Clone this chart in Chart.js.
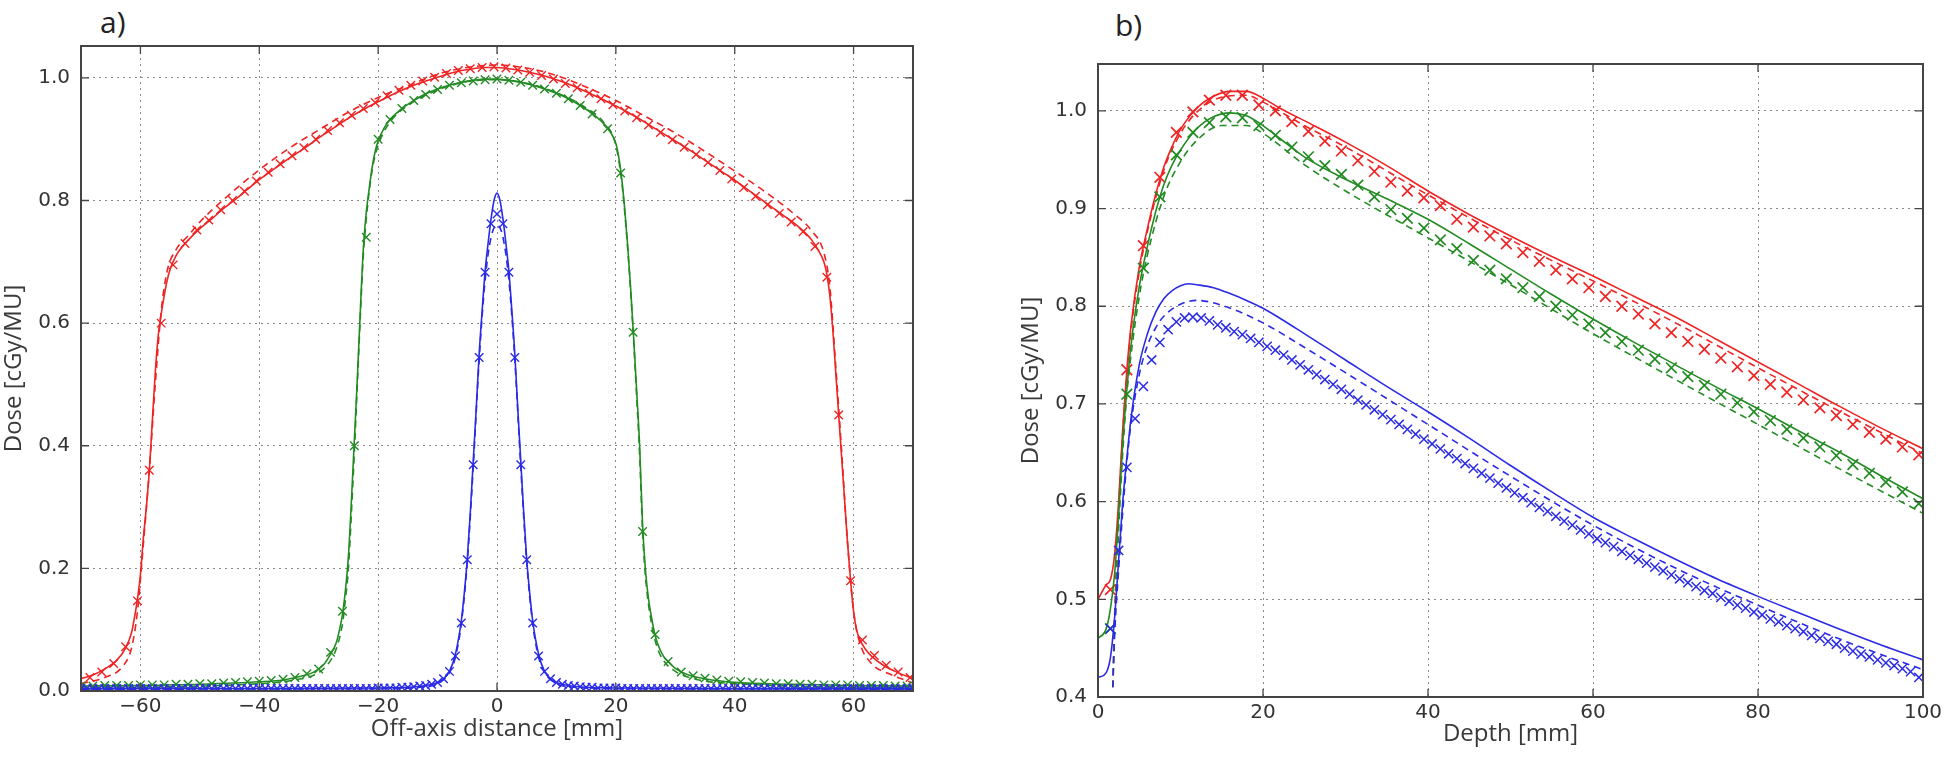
<!DOCTYPE html>
<html lang="en">
<head>
<meta charset="UTF-8">
<title>Dose profiles</title>
<script src="https://cdn.jsdelivr.net/npm/chart.js"></script>
<style>
  body { margin: 0; background: #fff; width: 1946px; height: 763px; overflow: hidden; position: relative; }
  canvas { position: absolute; top: 0; }
  .panel-label { position: absolute; font-family: "Open Sans", sans-serif; font-size: 30px; color: #222; line-height: 1; }
</style>
</head>
<body>
<div class="panel-label" style="left:100px; top:7px">a)</div>
<div class="panel-label" style="left:1115px; top:10px">b)</div>
<canvas id="chartA" width="960" height="763" style="left:0"></canvas>
<canvas id="chartB" width="986" height="763" style="left:960px"></canvas>
<script>
// ---------- panel a: off-axis profiles ----------
const aXTicks = [-60, -40, -20, 0, 20, 40, 60];
const aYTicks = [0.0, 0.2, 0.4, 0.6, 0.8, 1.0];

const aRedLineX = [-70, -68, -66, -64, -62.5, -61.5, -61, -60.5, -60, -59.5, -59, -58.5, -58, -57.5, -57, -56.5, -56, -55.5, -55, -54,
  -53, -52, -50, -48, -46, -44, -42, -40, -38, -36, -34, -32, -30, -28, -26, -24, -22, -20, -18, -16,
  -14, -12, -10, -8, -6, -4, -2, 0, 2, 4, 6, 8, 10, 12, 14, 16, 18, 20, 22, 24,
  26, 28, 30, 32, 34, 36, 38, 40, 42, 44, 46, 48, 50, 52, 53, 54, 55, 55.5, 56, 56.5,
  57, 57.5, 58, 58.5, 59, 59.5, 60, 60.5, 61, 62, 63, 65, 67, 70];
const aRedLineY = [0.02, 0.026, 0.036, 0.05, 0.07, 0.095, 0.12, 0.15, 0.19, 0.25, 0.3, 0.36, 0.44, 0.52, 0.58, 0.615, 0.645, 0.67, 0.688, 0.71,
  0.724, 0.735, 0.754, 0.77, 0.787, 0.802, 0.818, 0.834, 0.848, 0.862, 0.875, 0.888, 0.902, 0.915, 0.928, 0.94, 0.951, 0.961, 0.971, 0.98,
  0.988, 0.995, 1.001, 1.007, 1.012, 1.015, 1.017, 1.017, 1.015, 1.012, 1.008, 1.003, 0.997, 0.99, 0.982, 0.973, 0.964, 0.954, 0.944, 0.933,
  0.921, 0.909, 0.897, 0.885, 0.872, 0.859, 0.846, 0.833, 0.819, 0.805, 0.791, 0.777, 0.763, 0.746, 0.735, 0.72, 0.70, 0.68, 0.645, 0.59,
  0.52, 0.45, 0.38, 0.31, 0.24, 0.18, 0.13, 0.10, 0.085, 0.068, 0.057, 0.042, 0.032, 0.02];
const aRedDashX = [-70, -66, -63, -61.5, -60.5, -59.5, -58.5, -57.5, -56.5, -55.5, -54, -52, -50, -45, -40, -35, -30, -25, -20, -15,
  -10, -5, 0, 5, 10, 15, 20, 25, 30, 35, 40, 45, 50, 53, 55, 56, 57, 58, 59, 60, 61, 63, 66, 70];
const aRedDashY = [0.012, 0.022, 0.04, 0.07, 0.13, 0.24, 0.36, 0.50, 0.62, 0.685, 0.72, 0.742, 0.765, 0.81, 0.85, 0.885, 0.915, 0.944, 0.968, 0.987,
  1.006, 1.017, 1.021, 1.016, 1.004, 0.985, 0.963, 0.937, 0.91, 0.88, 0.848, 0.815, 0.778, 0.75, 0.715, 0.66, 0.53, 0.39, 0.24, 0.13, 0.08, 0.045, 0.028, 0.013];
const aRedMarkX = [-68.5, -66.5, -64.5, -62.5, -60.5, -58.5, -56.5, -54.5, -52.5, -50.5,
  -48.5, -46.5, -44.5, -42.5, -40.5, -38.5, -36.5, -34.5, -32.5, -30.5,
  -28.5, -26.5, -24.5, -22.5, -20.5, -18.5, -16.5, -14.5, -12.5, -10.5,
  -8.5, -6.5, -4.5, -2.5, -0.5, 1.5, 3.5, 5.5, 7.5, 9.5,
  11.5, 13.5, 15.5, 17.5, 19.5, 21.5, 23.5, 25.5, 27.5, 29.5,
  31.5, 33.5, 35.5, 37.5, 39.5, 41.5, 43.5, 45.5, 47.5, 49.5,
  51.5, 53.5, 55.5, 57.5, 59.5, 61.5, 63.5, 65.5, 67.5, 69.5];
const aRedMarkY = [0.022, 0.031, 0.045, 0.072, 0.147, 0.36, 0.60, 0.695, 0.73, 0.752,
  0.768, 0.785, 0.80, 0.815, 0.832, 0.846, 0.86, 0.873, 0.886, 0.90,
  0.914, 0.927, 0.939, 0.95, 0.96, 0.971, 0.98, 0.988, 0.995, 1.001,
  1.007, 1.012, 1.015, 1.017, 1.018, 1.016, 1.013, 1.009, 1.004, 0.998,
  0.991, 0.984, 0.975, 0.966, 0.956, 0.946, 0.935, 0.923, 0.911, 0.899,
  0.887, 0.875, 0.862, 0.849, 0.835, 0.821, 0.807, 0.793, 0.779, 0.765,
  0.749, 0.725, 0.675, 0.45, 0.18, 0.083, 0.058, 0.042, 0.031, 0.022];

const aGreenLineX = [-70, -60, -50, -40, -36, -33, -31, -30, -29, -28, -27, -26.5, -26, -25.5, -25, -24.5, -24, -23.5, -23, -22.5,
  -22, -21.5, -21, -20.5, -20, -19, -18, -16, -14, -12, -10, -8, -6, -4, -2, 0, 2, 4, 6, 8,
  10, 12, 14, 16, 18, 19, 20, 20.5, 21, 21.5, 22, 22.5, 23, 23.5, 24, 24.5, 25, 25.5, 26, 26.5,
  27, 28, 29, 30, 32, 35, 40, 50, 60, 70];
const aGreenLineY = [0.008, 0.009, 0.011, 0.015, 0.018, 0.024, 0.03, 0.036, 0.045, 0.06, 0.08, 0.1, 0.125, 0.165, 0.22, 0.31, 0.41, 0.51, 0.62, 0.72,
  0.78, 0.82, 0.855, 0.88, 0.897, 0.918, 0.932, 0.95, 0.963, 0.974, 0.982, 0.988, 0.993, 0.996, 0.998, 0.998, 0.996, 0.993, 0.988, 0.982,
  0.975, 0.966, 0.955, 0.942, 0.925, 0.913, 0.893, 0.87, 0.835, 0.785, 0.725, 0.655, 0.575, 0.49, 0.40, 0.27, 0.195, 0.15, 0.12, 0.095,
  0.078, 0.057, 0.046, 0.037, 0.027, 0.02, 0.014, 0.011, 0.009, 0.008];
const aGreenDashX = [-70, -50, -40, -34, -30, -28, -27, -26, -25.5, -25, -24.5, -24, -23.5, -23, -22.5, -22, -21, -20, -18, -15,
  -10, -5, 0, 5, 10, 15, 18, 20, 21, 21.5, 22, 22.5, 23, 23.5, 24, 24.5, 25, 26, 27, 28, 30, 34, 40, 50, 70];
const aGreenDashY = [0.005, 0.008, 0.012, 0.018, 0.03, 0.05, 0.07, 0.11, 0.15, 0.2, 0.29, 0.39, 0.5, 0.61, 0.71, 0.77, 0.85, 0.89, 0.928, 0.955,
  0.98, 0.994, 0.997, 0.991, 0.976, 0.951, 0.927, 0.89, 0.83, 0.78, 0.72, 0.65, 0.57, 0.48, 0.385, 0.26, 0.185, 0.11, 0.07, 0.05, 0.032, 0.018, 0.012, 0.008, 0.005];
const aGreenMarkX = [-70, -68, -66, -64, -62, -60, -58, -56, -54, -52, -50, -48, -46, -44, -42, -40, -38, -36, -34, -32,
  -30, -28, -26, -24, -22, -20, -18, -16, -14, -12, -10, -8, -6, -4, -2, 0, 2, 4, 6, 8,
  10, 12, 14, 16, 18.6, 20.8, 22.9, 24.5, 26.6, 28.8, 31, 33, 35, 37, 39, 41, 43, 45, 47, 49,
  51, 53, 55, 57, 59, 61, 63, 65, 67, 69];
const aGreenMarkY = [0.008, 0.008, 0.009, 0.009, 0.009, 0.01, 0.01, 0.01, 0.011, 0.011, 0.012, 0.012, 0.013, 0.014, 0.015, 0.016, 0.017, 0.019, 0.022, 0.028,
  0.036, 0.063, 0.13, 0.40, 0.74, 0.9, 0.932, 0.95, 0.963, 0.973, 0.981, 0.988, 0.992, 0.995, 0.997, 0.998, 0.996, 0.993, 0.988, 0.982,
  0.975, 0.966, 0.955, 0.941, 0.917, 0.845, 0.585, 0.26, 0.092, 0.048, 0.031, 0.025, 0.021, 0.018, 0.016, 0.015, 0.014, 0.013, 0.012, 0.012,
  0.011, 0.011, 0.01, 0.01, 0.01, 0.009, 0.009, 0.009, 0.008, 0.008];

const aBlueLineX = [-70, -40, -20, -15, -12, -10, -9, -8, -7, -6, -5.5, -5, -4.5, -4, -3.5, -3, -2.5, -2, -1.5, -1,
  -0.5, 0, 0.5, 1, 1.5, 2, 2.5, 3, 3.5, 4, 4.5, 5, 5.5, 6, 7, 8, 9, 10, 12, 15, 20, 40, 70];
const aBlueLineY = [0.004, 0.004, 0.005, 0.006, 0.009, 0.014, 0.02, 0.032, 0.06, 0.115, 0.16, 0.215, 0.29, 0.375, 0.46, 0.55, 0.62, 0.685, 0.73, 0.77,
  0.8, 0.812, 0.8, 0.77, 0.73, 0.685, 0.62, 0.55, 0.46, 0.375, 0.29, 0.215, 0.16, 0.115, 0.06, 0.032, 0.02, 0.014, 0.009, 0.006, 0.005, 0.004, 0.004];
const aBlueDashX = [-70, -20, -12, -10, -8, -7, -6, -5, -4, -3, -2, -1, 0, 1, 2, 3, 4, 5, 6, 7, 8, 10, 12, 20, 70];
const aBlueDashY = [0.003, 0.004, 0.007, 0.012, 0.03, 0.055, 0.11, 0.21, 0.365, 0.54, 0.67, 0.74, 0.76, 0.74, 0.67, 0.54, 0.365, 0.21, 0.11, 0.055, 0.03, 0.012, 0.007, 0.004, 0.003];
const aBlueMarkX = [-70, -69, -68, -67, -66, -65, -64, -63, -62, -61, -60, -59, -58, -57, -56, -55, -54, -53, -52, -51,
  -50, -49, -48, -47, -46, -45, -44, -43, -42, -41, -40, -39, -38, -37, -36, -35, -34, -33, -32, -31,
  -30, -29, -28, -27, -26, -25, -24, -23, -22, -21, -20, -19, -18, -17, -16, -15, -14, -13, -12, -11,
  -10, -9, -8, -7, -6, -5, -4, -3, -2, -1, 0, 1, 2, 3, 4, 5, 6, 7, 8, 9,
  10, 11, 12, 13, 14, 15, 16, 17, 18, 19, 20, 21, 22, 23, 24, 25, 26, 27, 28, 29,
  30, 31, 32, 33, 34, 35, 36, 37, 38, 39, 40, 41, 42, 43, 44, 45, 46, 47, 48, 49,
  50, 51, 52, 53, 54, 55, 56, 57, 58, 59, 60, 61, 62, 63, 64, 65, 66, 67, 68, 69, 70];
const aBlueMarkY = [0.004, 0.004, 0.004, 0.004, 0.004, 0.004, 0.004, 0.004, 0.004, 0.004, 0.004, 0.004, 0.004, 0.004, 0.004, 0.004, 0.004, 0.004, 0.004, 0.004,
  0.004, 0.004, 0.004, 0.004, 0.004, 0.004, 0.004, 0.004, 0.004, 0.004, 0.004, 0.004, 0.004, 0.004, 0.004, 0.004, 0.004, 0.004, 0.004, 0.004,
  0.004, 0.004, 0.004, 0.004, 0.004, 0.004, 0.004, 0.004, 0.004, 0.004, 0.005, 0.005, 0.005, 0.005, 0.006, 0.006, 0.007, 0.008, 0.009, 0.011,
  0.014, 0.02, 0.032, 0.057, 0.111, 0.214, 0.369, 0.544, 0.683, 0.762, 0.778, 0.762, 0.683, 0.544, 0.369, 0.214, 0.111, 0.057, 0.032, 0.02,
  0.014, 0.011, 0.009, 0.008, 0.007, 0.006, 0.006, 0.005, 0.005, 0.005, 0.005, 0.004, 0.004, 0.004, 0.004, 0.004, 0.004, 0.004, 0.004, 0.004,
  0.004, 0.004, 0.004, 0.004, 0.004, 0.004, 0.004, 0.004, 0.004, 0.004, 0.004, 0.004, 0.004, 0.004, 0.004, 0.004, 0.004, 0.004, 0.004, 0.004,
  0.004, 0.004, 0.004, 0.004, 0.004, 0.004, 0.004, 0.004, 0.004, 0.004, 0.004, 0.004, 0.004, 0.004, 0.004, 0.004, 0.004, 0.004, 0.004, 0.004, 0.004];

// ---------- panel b: depth dose ----------
const bXTicks = [0, 20, 40, 60, 80, 100];
const bYTicks = [0.4, 0.5, 0.6, 0.7, 0.8, 0.9, 1.0];

const bLineX = [0, 1, 1.5, 2, 2.5, 3, 3.5, 4, 5, 6, 7, 8, 9, 10, 12, 14, 16, 18, 20, 22,
  25, 30, 35, 40, 45, 50, 55, 60, 65, 70, 75, 80, 85, 90, 95, 100];
const bRedLineY = [0.50, 0.515, 0.52, 0.545, 0.60, 0.675, 0.735, 0.78, 0.84, 0.88, 0.915, 0.943, 0.964, 0.981, 1.003, 1.015, 1.02, 1.02, 1.013, 1.003,
  0.99, 0.968, 0.944, 0.918, 0.894, 0.872, 0.851, 0.831, 0.81, 0.789, 0.766, 0.743, 0.72, 0.697, 0.675, 0.654];
const bGreenLineY = [0.46, 0.47, 0.49, 0.525, 0.585, 0.66, 0.715, 0.76, 0.82, 0.862, 0.897, 0.925, 0.945, 0.96, 0.982, 0.994, 0.998, 0.995, 0.985, 0.972,
  0.953, 0.93, 0.91, 0.889, 0.864, 0.838, 0.812, 0.787, 0.763, 0.74, 0.717, 0.695, 0.672, 0.65, 0.626, 0.603];
const bBlueLineX = [0, 1, 1.5, 2, 2.5, 3, 3.5, 4, 5, 6, 7, 8, 9, 10, 11, 12, 14, 16, 18, 20,
  22, 25, 30, 35, 40, 45, 50, 55, 60, 65, 70, 75, 80, 85, 90, 95, 100];
const bBlueLineY = [0.42, 0.425, 0.44, 0.48, 0.54, 0.6, 0.645, 0.685, 0.74, 0.772, 0.794, 0.808, 0.816, 0.821, 0.823, 0.822, 0.819, 0.813, 0.806, 0.798,
  0.788, 0.772, 0.745, 0.718, 0.692, 0.665, 0.637, 0.61, 0.584, 0.562, 0.541, 0.521, 0.503, 0.486, 0.469, 0.453, 0.438];

const bRedDashX = [1.8, 2, 2.5, 3, 3.5, 4, 5, 6, 8, 10, 12, 15, 18, 20, 25, 30, 40, 50, 60, 70, 80, 90, 100];
const bRedDashY = [0.41, 0.48, 0.59, 0.67, 0.73, 0.775, 0.835, 0.877, 0.94, 0.977, 0.999, 1.014, 1.016, 1.009, 0.985, 0.963, 0.914, 0.868, 0.826, 0.783, 0.737, 0.692, 0.649];
const bGreenDashX = [1.8, 2, 2.5, 3, 3.5, 4, 5, 6, 8, 10, 12, 15, 18, 20, 25, 30, 40, 50, 60, 70, 80, 90, 100];
const bGreenDashY = [0.41, 0.47, 0.57, 0.65, 0.71, 0.75, 0.81, 0.853, 0.913, 0.948, 0.97, 0.985, 0.985, 0.977, 0.945, 0.918, 0.87, 0.822, 0.772, 0.725, 0.679, 0.633, 0.588];
const bBlueDashX = [1.8, 2, 2.5, 3, 3.5, 4, 5, 6, 7, 8, 10, 12, 15, 20, 25, 30, 40, 50, 60, 70, 80, 90, 100];
const bBlueDashY = [0.41, 0.46, 0.53, 0.59, 0.64, 0.68, 0.73, 0.76, 0.778, 0.79, 0.802, 0.806, 0.801, 0.783, 0.758, 0.732, 0.679, 0.626, 0.576, 0.532, 0.494, 0.459, 0.428];

const bMarkX2 = [1.5, 3.5, 5.5, 7.5, 9.5, 11.5, 13.5, 15.5, 17.5, 19.5, 21.5, 23.5, 25.5, 27.5, 29.5, 31.5, 33.5, 35.5, 37.5, 39.5,
  41.5, 43.5, 45.5, 47.5, 49.5, 51.5, 53.5, 55.5, 57.5, 59.5, 61.5, 63.5, 65.5, 67.5, 69.5, 71.5, 73.5, 75.5, 77.5, 79.5,
  81.5, 83.5, 85.5, 87.5, 89.5, 91.5, 93.5, 95.5, 97.5, 99.5];
const bRedMarkY = [0.51, 0.735, 0.862, 0.932, 0.978, 0.999, 1.011, 1.016, 1.016, 1.006, 1.0, 0.989, 0.979, 0.969, 0.959, 0.949, 0.938, 0.927, 0.918, 0.911,
  0.903, 0.889, 0.881, 0.872, 0.864, 0.855, 0.846, 0.837, 0.828, 0.819, 0.810, 0.800, 0.792, 0.782, 0.773, 0.764, 0.756, 0.747, 0.738, 0.729,
  0.720, 0.712, 0.704, 0.696, 0.688, 0.679, 0.671, 0.664, 0.656, 0.648];
const bGreenMarkY = [0.47, 0.71, 0.839, 0.912, 0.955, 0.978, 0.988, 0.994, 0.993, 0.985, 0.975, 0.963, 0.953, 0.944, 0.935, 0.924, 0.912, 0.899, 0.89, 0.88,
  0.868, 0.859, 0.847, 0.837, 0.828, 0.819, 0.810, 0.800, 0.791, 0.782, 0.773, 0.764, 0.755, 0.746, 0.737, 0.728, 0.719, 0.710, 0.701, 0.692,
  0.683, 0.674, 0.665, 0.656, 0.647, 0.638, 0.629, 0.620, 0.610, 0.598];
const bMarkX1 = [1.5, 2.5, 3.5, 4.5, 5.5, 6.5, 7.5, 8.5, 9.5, 10.5, 11.5, 12.5, 13.5, 14.5, 15.5, 16.5, 17.5, 18.5, 19.5, 20.5,
  21.5, 22.5, 23.5, 24.5, 25.5, 26.5, 27.5, 28.5, 29.5, 30.5, 31.5, 32.5, 33.5, 34.5, 35.5, 36.5, 37.5, 38.5, 39.5, 40.5,
  41.5, 42.5, 43.5, 44.5, 45.5, 46.5, 47.5, 48.5, 49.5, 50.5, 51.5, 52.5, 53.5, 54.5, 55.5, 56.5, 57.5, 58.5, 59.5, 60.5,
  61.5, 62.5, 63.5, 64.5, 65.5, 66.5, 67.5, 68.5, 69.5, 70.5, 71.5, 72.5, 73.5, 74.5, 75.5, 76.5, 77.5, 78.5, 79.5, 80.5,
  81.5, 82.5, 83.5, 84.5, 85.5, 86.5, 87.5, 88.5, 89.5, 90.5, 91.5, 92.5, 93.5, 94.5, 95.5, 96.5, 97.5, 98.5, 99.5];
const bBlueMarkY = [0.47, 0.55, 0.635, 0.685, 0.718, 0.745, 0.763, 0.776, 0.784, 0.788, 0.789, 0.788, 0.785, 0.781, 0.778, 0.774, 0.771, 0.767, 0.763, 0.759,
  0.755, 0.750, 0.745, 0.740, 0.735, 0.730, 0.725, 0.720, 0.715, 0.710, 0.704, 0.699, 0.694, 0.689, 0.684, 0.679, 0.674, 0.669, 0.664, 0.659,
  0.654, 0.649, 0.644, 0.639, 0.634, 0.629, 0.624, 0.619, 0.614, 0.609, 0.604, 0.599, 0.594, 0.590, 0.585, 0.580, 0.576, 0.571, 0.567, 0.562,
  0.558, 0.554, 0.549, 0.545, 0.541, 0.537, 0.533, 0.529, 0.525, 0.521, 0.517, 0.513, 0.509, 0.506, 0.502, 0.498, 0.494, 0.491, 0.487, 0.484,
  0.480, 0.477, 0.473, 0.470, 0.467, 0.463, 0.460, 0.457, 0.454, 0.450, 0.447, 0.444, 0.441, 0.438, 0.435, 0.432, 0.429, 0.426, 0.420];

const RED = '#ee2424';
const GREEN = '#238b23';
const BLUE = '#2b2be6';

function pts(xs, ys) {
  return xs.map((x, i) => ({ x: x, y: ys[i] }));
}
function line(xs, ys, color, dashed, order) {
  return {
    data: pts(xs, ys), showLine: true, pointRadius: 0, borderColor: color, borderWidth: 1.6,
    borderDash: dashed ? [7, 5] : [], cubicInterpolationMode: 'monotone', order: order
  };
}
function marks(xs, ys, color, order, r, w) {
  return {
    data: pts(xs, ys), showLine: false, pointStyle: 'crossRot', pointRadius: r,
    pointBorderWidth: w, borderColor: color, backgroundColor: color, order: order
  };
}

// frame with inward ticks on all four sides, like the original
const framePlugin = {
  id: 'frame',
  afterDatasetsDraw(chart) {
    const { ctx, chartArea: a, scales } = chart;
    ctx.save();
    ctx.strokeStyle = '#444';
    ctx.lineWidth = 1.3;
    ctx.beginPath();
    scales.x.ticks.forEach(t => {
      const px = scales.x.getPixelForValue(t.value);
      ctx.moveTo(px, a.bottom); ctx.lineTo(px, a.bottom - 8);
      ctx.moveTo(px, a.top); ctx.lineTo(px, a.top + 8);
    });
    scales.y.ticks.forEach(t => {
      const py = scales.y.getPixelForValue(t.value);
      ctx.moveTo(a.left, py); ctx.lineTo(a.left + 8, py);
      ctx.moveTo(a.right, py); ctx.lineTo(a.right - 8, py);
    });
    ctx.stroke();
    ctx.lineWidth = 2;
    ctx.strokeRect(a.left, a.top, a.right - a.left, a.bottom - a.top);
    ctx.restore();
  }
};

const tickFont = { family: 'DejaVu Sans', size: 20 };
const titleFont = { family: 'Open Sans', size: 24 };

function makeChart(id, c) {
  return new Chart(document.getElementById(id), {
    type: 'scatter',
    data: { datasets: c.datasets },
    options: {
      responsive: false,
      animation: false,
      events: [],
      layout: { padding: c.padding },
      plugins: { legend: { display: false }, tooltip: { enabled: false } },
      scales: {
        x: {
          type: 'linear', min: c.xMin, max: c.xMax,
          afterBuildTicks: s => { s.ticks = c.xTicks.map(v => ({ value: v })); },
          afterFit: s => { s.height = c.xHeight; s.paddingLeft = 0; s.paddingRight = 0; },
          grid: { color: '#8a8a8a', lineWidth: 1, drawTicks: false },
          border: { display: false, dash: [2, 4] },
          ticks: {
            padding: 4, color: '#333', font: tickFont, maxRotation: 0, autoSkip: false,
            callback: v => v < 0 ? '\u2212' + (-v) : String(v)
          },
          title: { display: true, text: c.xTitle, color: '#3a3a3a', font: titleFont, padding: { top: 0, bottom: c.xTitlePad } }
        },
        y: {
          type: 'linear', min: c.yMin, max: c.yMax,
          afterBuildTicks: s => { s.ticks = c.yTicks.map(v => ({ value: v })); },
          afterFit: s => { s.width = c.yWidth; s.paddingTop = 0; s.paddingBottom = 0; },
          grid: { color: '#8a8a8a', lineWidth: 1, drawTicks: false },
          border: { display: false, dash: [2, 4] },
          ticks: { padding: 11, color: '#333', font: tickFont, autoSkip: false, callback: v => v.toFixed(1) },
          title: { display: true, text: 'Dose [cGy/MU]', color: '#3a3a3a', font: titleFont, padding: { top: c.yTitlePad, bottom: 0 } }
        }
      }
    },
    plugins: [framePlugin]
  });
}

makeChart('chartA', {
  padding: { left: 0, top: 46, right: 47, bottom: 0 },
  xMin: -70, xMax: 70, yMin: 0, yMax: 1.052,
  xTicks: aXTicks, yTicks: aYTicks,
  xHeight: 72, yWidth: 81, xTitlePad: 19, yTitlePad: 0,
  xTitle: 'Off-axis distance [mm]',
  datasets: [
    line(aRedLineX, aRedLineY, RED, false, 9),
    line(aRedDashX, aRedDashY, RED, true, 8),
    marks(aRedMarkX, aRedMarkY, RED, 7, 6, 1.4),
    line(aGreenLineX, aGreenLineY, GREEN, false, 6),
    line(aGreenDashX, aGreenDashY, GREEN, true, 5),
    marks(aGreenMarkX, aGreenMarkY, GREEN, 4, 6, 1.4),
    line(aBlueLineX, aBlueLineY, BLUE, false, 3),
    line(aBlueDashX, aBlueDashY, BLUE, true, 2),
    marks(aBlueMarkX, aBlueMarkY, BLUE, 1, 6, 1.4)
  ]
});

makeChart('chartB', {
  padding: { left: 57, top: 64, right: 23, bottom: 0 },
  xMin: 0, xMax: 100, yMin: 0.4, yMax: 1.048,
  xTicks: bXTicks, yTicks: bYTicks,
  xHeight: 66, yWidth: 81, xTitlePad: 14, yTitlePad: 0,
  xTitle: 'Depth [mm]',
  datasets: [
    line(bLineX, bRedLineY, RED, false, 9),
    line(bRedDashX, bRedDashY, RED, true, 8),
    marks(bMarkX2, bRedMarkY, RED, 7, 7.5, 1.7),
    line(bLineX, bGreenLineY, GREEN, false, 6),
    line(bGreenDashX, bGreenDashY, GREEN, true, 5),
    marks(bMarkX2, bGreenMarkY, GREEN, 4, 7.5, 1.7),
    line(bBlueLineX, bBlueLineY, BLUE, false, 3),
    line(bBlueDashX, bBlueDashY, BLUE, true, 2),
    marks(bMarkX1, bBlueMarkY, BLUE, 1, 6.5, 1.5)
  ]
});
</script>
</body>
</html>
